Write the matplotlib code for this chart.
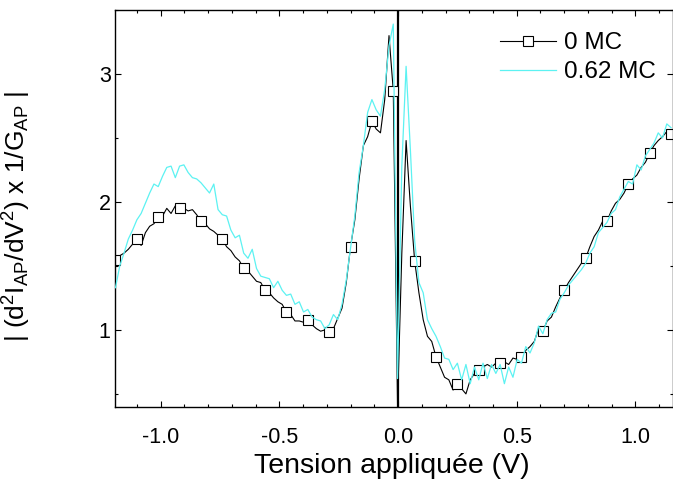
import numpy as np
import matplotlib
matplotlib.use('Agg')
import matplotlib.pyplot as plt
from matplotlib.ticker import MultipleLocator, FormatStrFormatter

plt.rcParams['font.family'] = ['Liberation Sans', 'DejaVu Sans']
plt.rcParams['mathtext.default'] = 'regular'
plt.rcParams['axes.unicode_minus'] = False

# tension appliquée (V), pas de 0.018 V
tension = np.round(-1.19 + 0.018 * np.arange(131), 3)

# 0 MC (noir, carrés ouverts)
mc_0 = [
    1.55, 1.58, 1.60, 1.63, 1.67, 1.71, 1.66, 1.76, 1.81, 1.83,
    1.88, 1.89, 1.95, 1.91, 1.97, 1.95, 1.95, 1.93, 1.94, 1.90,
    1.85, 1.83, 1.79, 1.77, 1.74, 1.71, 1.65, 1.62, 1.57, 1.54,
    1.48, 1.46, 1.42, 1.38, 1.37, 1.31, 1.29, 1.25, 1.22, 1.20,
    1.14, 1.12, 1.07, 1.07, 1.06, 1.08, 1.04, 1.01, 0.99, 1.00,
    0.98, 1.01, 1.09, 1.17, 1.37, 1.65, 1.86, 2.18, 2.44, 2.51,
    2.63, 2.57, 2.54, 2.80, 3.30, 2.87, 0.42, 1.60, 2.48, 1.97,
    1.54, 1.29, 1.08, 0.95, 0.91, 0.79, 0.71, 0.63, 0.61, 0.53,
    0.58, 0.54, 0.50, 0.61, 0.66, 0.69, 0.71, 0.73, 0.71, 0.74,
    0.74, 0.75, 0.73, 0.78, 0.77, 0.79, 0.84, 0.87, 0.91, 1.01,
    0.99, 1.07, 1.10, 1.18, 1.25, 1.31, 1.37, 1.42, 1.47, 1.52,
    1.56, 1.65, 1.73, 1.78, 1.85, 1.85, 1.93, 1.99, 2.02, 2.07,
    2.14, 2.18, 2.21, 2.27, 2.31, 2.38, 2.44, 2.48, 2.51, 2.55, 2.53,
]

# 0.62 MC (cyan)
mc_062 = [
    1.33, 1.50, 1.60, 1.71, 1.78, 1.86, 1.91, 1.99, 2.07, 2.14,
    2.12, 2.20, 2.27, 2.28, 2.19, 2.28, 2.29, 2.23, 2.19, 2.18,
    2.15, 2.11, 2.07, 2.14, 1.94, 1.90, 1.89, 1.78, 1.72, 1.74,
    1.60, 1.56, 1.63, 1.48, 1.42, 1.41, 1.40, 1.33, 1.38, 1.31,
    1.27, 1.28, 1.20, 1.22, 1.14, 1.16, 1.10, 1.08, 1.07, 1.01,
    1.04, 1.12, 1.08, 1.20, 1.39, 1.64, 1.89, 2.23, 2.44, 2.70,
    2.80, 2.72, 2.67, 2.88, 3.22, 3.39, 0.62, 2.28, 3.06, 2.41,
    1.70, 1.37, 1.29, 1.08, 1.01, 0.95, 0.87, 0.78, 0.77, 0.69,
    0.74, 0.61, 0.73, 0.58, 0.71, 0.61, 0.74, 0.62, 0.73, 0.66,
    0.73, 0.58, 0.71, 0.63, 0.77, 0.74, 0.87, 0.82, 0.90, 1.03,
    0.97, 1.08, 1.13, 1.14, 1.24, 1.29, 1.35, 1.39, 1.43, 1.47,
    1.52, 1.60, 1.65, 1.76, 1.80, 1.84, 1.91, 1.94, 2.04, 2.10,
    2.16, 2.14, 2.29, 2.25, 2.36, 2.41, 2.46, 2.54, 2.50, 2.61, 2.58,
]

labels = ['0 MC', '0.62 MC']
CYAN = '#5CF2F2'

fig = plt.figure(figsize=(6.73, 4.88), dpi=100)
ax = fig.add_axes([0.1716, 0.1666, 0.828, 0.8129])

ax.axvline(0, color='black', lw=1.6, zorder=1)
ax.plot(tension, mc_0, '-s', color='black', lw=0.8, ms=7, mfc='white',
        mec='black', mew=0.8, markevery=5, label=labels[0], zorder=2)
ax.plot(tension, mc_062, '-', color=CYAN, lw=0.9, label=labels[1], zorder=3)

ax.set_xlim(-1.19, 1.157)
ax.set_ylim(0.4, 3.5)
ax.xaxis.set_major_locator(MultipleLocator(0.5))
ax.xaxis.set_minor_locator(MultipleLocator(0.1))
ax.xaxis.set_major_formatter(FormatStrFormatter('%.1f'))
ax.yaxis.set_major_locator(MultipleLocator(1))
ax.yaxis.set_minor_locator(MultipleLocator(0.5))
ax.tick_params(which='both', direction='in', top=True, right=True, width=0.8)
ax.tick_params(which='major', length=4.5, labelsize=15.5)
ax.tick_params(which='minor', length=2.5)
ax.tick_params(axis='x', pad=14.5)
ax.tick_params(axis='y', pad=3.5)
for s in ax.spines.values():
    s.set_linewidth(1.0)

ax.set_xlabel('Tension appliquée (V)', fontsize=20.5)
ax.xaxis.set_label_coords(0.496, -0.117)
ax.set_ylabel(r'| (d$^2$I$_{AP}$/dV$^2$) x 1/G$_{AP}$ |', fontsize=19)
ax.yaxis.set_label_coords(-0.148, 0.48)

ax.legend(loc='upper left', bbox_to_anchor=(500 / 673, 1 - 32 / 488),
          bbox_transform=fig.transFigure, frameon=False, fontsize=17.5,
          handlelength=2.3, handletextpad=0.33, labelspacing=0.3,
          borderpad=0, borderaxespad=0, numpoints=1)

fig.savefig('out.png', dpi=100)
